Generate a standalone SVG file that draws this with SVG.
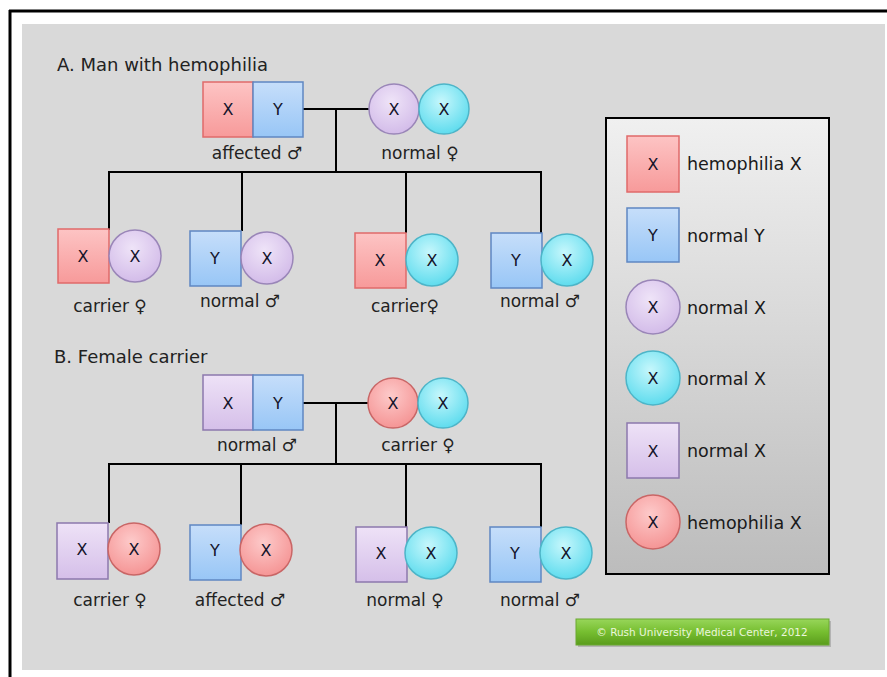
<svg xmlns="http://www.w3.org/2000/svg" width="887" height="677" viewBox="0 0 887 677">
<defs>
<linearGradient id="gRedSq" x1="0" y1="0" x2="0" y2="1"><stop offset="0" stop-color="#fdc4c4"/><stop offset="1" stop-color="#f79a9a"/></linearGradient>
<linearGradient id="gBlueSq" x1="0" y1="0" x2="0" y2="1"><stop offset="0" stop-color="#c6defa"/><stop offset="1" stop-color="#98c6f6"/></linearGradient>
<linearGradient id="gPurSq" x1="0" y1="0" x2="0" y2="1"><stop offset="0" stop-color="#eee2f7"/><stop offset="1" stop-color="#d5bfe9"/></linearGradient>
<radialGradient id="gPurC" cx="0.45" cy="0.35" r="0.65"><stop offset="0" stop-color="#efe4f8"/><stop offset="1" stop-color="#d3bce9"/></radialGradient>
<radialGradient id="gCyanC" cx="0.45" cy="0.35" r="0.65"><stop offset="0" stop-color="#c6f7fc"/><stop offset="1" stop-color="#5fdcee"/></radialGradient>
<radialGradient id="gRedC" cx="0.45" cy="0.35" r="0.65"><stop offset="0" stop-color="#fdcaca"/><stop offset="1" stop-color="#f59595"/></radialGradient>
<linearGradient id="gLegend" x1="0" y1="0" x2="0" y2="1"><stop offset="0" stop-color="#f0f0f0"/><stop offset="1" stop-color="#bcbcbc"/></linearGradient>
<linearGradient id="gGreen" x1="0" y1="0" x2="0" y2="1"><stop offset="0" stop-color="#98d65a"/><stop offset="0.5" stop-color="#76be30"/><stop offset="1" stop-color="#5a9c1c"/></linearGradient>
</defs>
<style>
.rs{fill:url(#gRedSq);stroke:#e06a6a;stroke-width:1.5}
.bs{fill:url(#gBlueSq);stroke:#5f87c2;stroke-width:1.5}
.ps{fill:url(#gPurSq);stroke:#8c78ad;stroke-width:1.5}
.pc{fill:url(#gPurC);stroke:#9a86b8;stroke-width:1.5}
.cc{fill:url(#gCyanC);stroke:#4db5c8;stroke-width:1.5}
.rc{fill:url(#gRedC);stroke:#c96666;stroke-width:1.5}
.g{font-family:"DejaVu Sans",Verdana,sans-serif;font-size:16px;fill:#14142a;text-anchor:middle}
.lb{font-family:"DejaVu Sans",Verdana,sans-serif;font-size:17px;fill:#222;text-anchor:middle}
.lg{font-family:"DejaVu Sans",Verdana,sans-serif;font-size:17.5px;fill:#1a1a1a}
.tt{font-family:"DejaVu Sans",Verdana,sans-serif;font-size:18px;fill:#222}
.ln{stroke:#000;stroke-width:2;fill:none}
</style>
<rect x="0" y="0" width="887" height="677" fill="#fff"/>
<rect x="22" y="24" width="863" height="646" fill="#d9d9d9"/>
<line x1="9" y1="11" x2="887" y2="11" stroke="#000" stroke-width="3"/>
<line x1="10" y1="10" x2="10" y2="677" stroke="#000" stroke-width="3"/>

<text class="tt" x="57" y="71">A. Man with hemophilia</text>
<text class="tt" x="54" y="363">B. Female carrier</text>

<g id="connectors">
<path class="ln" d="M303 109H369M336 109V172M108 172H542M109 172V230M242 172V231M406 172V233M541 172V233"/>
<path class="ln" d="M303 403H368M336 403V464M108 464H542M109 464V523M241 464V525M406 464V527M541 464V527"/>
</g>

<g id="a-father">
<rect class="rs" x="203" y="82" width="50" height="55"/><rect class="bs" x="253" y="82" width="50" height="55"/>
<text class="g" x="228" y="115">X</text><text class="g" x="278" y="115">Y</text>
<text class="lb" x="257" y="159">affected ♂</text>
</g>
<g id="a-mother">
<circle class="pc" cx="394" cy="109" r="25"/><circle class="cc" cx="444" cy="109" r="25"/>
<text class="g" x="394" y="115">X</text><text class="g" x="444" y="115">X</text>
<text class="lb" x="420" y="159">normal ♀</text>
</g>
<g id="a-child1">
<rect class="rs" x="58" y="229" width="51" height="54"/><circle class="pc" cx="135" cy="256" r="26"/>
<text class="g" x="83" y="262">X</text><text class="g" x="135" y="262">X</text>
<text class="lb" x="110" y="312">carrier ♀</text>
</g>
<g id="a-child2">
<rect class="bs" x="190" y="231" width="51" height="55"/><circle class="pc" cx="267" cy="258" r="26"/>
<text class="g" x="215" y="264">Y</text><text class="g" x="267" y="264">X</text>
<text class="lb" x="240" y="307">normal ♂</text>
</g>
<g id="a-child3">
<rect class="rs" x="355" y="233" width="51" height="55"/><circle class="cc" cx="432" cy="260" r="26"/>
<text class="g" x="380" y="266">X</text><text class="g" x="432" y="266">X</text>
<text class="lb" x="405" y="312">carrier♀</text>
</g>
<g id="a-child4">
<rect class="bs" x="491" y="233" width="51" height="55"/><circle class="cc" cx="567" cy="260" r="26"/>
<text class="g" x="516" y="266">Y</text><text class="g" x="567" y="266">X</text>
<text class="lb" x="540" y="307">normal ♂</text>
</g>

<g id="b-father">
<rect class="ps" x="203" y="375" width="50" height="55"/><rect class="bs" x="253" y="375" width="50" height="55"/>
<text class="g" x="228" y="409">X</text><text class="g" x="278" y="409">Y</text>
<text class="lb" x="257" y="451">normal ♂</text>
</g>
<g id="b-mother">
<circle class="rc" cx="393" cy="403" r="25"/><circle class="cc" cx="443" cy="403" r="25"/>
<text class="g" x="393" y="409">X</text><text class="g" x="443" y="409">X</text>
<text class="lb" x="418" y="451">carrier ♀</text>
</g>
<g id="b-child1">
<rect class="ps" x="57" y="523" width="51" height="56"/><circle class="rc" cx="134" cy="549" r="26"/>
<text class="g" x="82" y="555">X</text><text class="g" x="134" y="555">X</text>
<text class="lb" x="110" y="606">carrier ♀</text>
</g>
<g id="b-child2">
<rect class="bs" x="190" y="525" width="51" height="55"/><circle class="rc" cx="266" cy="550" r="26"/>
<text class="g" x="215" y="556">Y</text><text class="g" x="266" y="556">X</text>
<text class="lb" x="240" y="606">affected ♂</text>
</g>
<g id="b-child3">
<rect class="ps" x="356" y="527" width="51" height="55"/><circle class="cc" cx="431" cy="553" r="26"/>
<text class="g" x="381" y="559">X</text><text class="g" x="431" y="559">X</text>
<text class="lb" x="405" y="606">normal ♀</text>
</g>
<g id="b-child4">
<rect class="bs" x="490" y="527" width="51" height="55"/><circle class="cc" cx="566" cy="553" r="26"/>
<text class="g" x="515" y="559">Y</text><text class="g" x="566" y="559">X</text>
<text class="lb" x="540" y="606">normal ♂</text>
</g>

<g id="legend">
<rect x="606" y="118" width="223" height="456" fill="url(#gLegend)" stroke="#000" stroke-width="2"/>
<rect class="rs" x="627" y="136" width="52" height="56"/><text class="g" x="653" y="170">X</text><text class="lg" x="687" y="170">hemophilia X</text>
<rect class="bs" x="627" y="208" width="52" height="54"/><text class="g" x="653" y="241">Y</text><text class="lg" x="687" y="242">normal Y</text>
<circle class="pc" cx="653" cy="307" r="27"/><text class="g" x="653" y="313">X</text><text class="lg" x="687" y="314">normal X</text>
<circle class="cc" cx="653" cy="378" r="27"/><text class="g" x="653" y="384">X</text><text class="lg" x="687" y="385">normal X</text>
<rect class="ps" x="627" y="423" width="52" height="55"/><text class="g" x="653" y="457">X</text><text class="lg" x="687" y="457">normal X</text>
<circle class="rc" cx="653" cy="522" r="27"/><text class="g" x="653" y="528">X</text><text class="lg" x="687" y="529">hemophilia X</text>
</g>

<g id="copyright">
<rect x="578" y="621" width="253" height="26" fill="#9a9a9a" opacity="0.6"/>
<rect x="576" y="619" width="253" height="26" fill="url(#gGreen)" stroke="#6aa830" stroke-width="1"/>
<text x="702" y="636" font-family="DejaVu Sans,Verdana,sans-serif" font-size="10.5" fill="#eaf6dc" text-anchor="middle">© Rush University Medical Center, 2012</text>
</g>
</svg>
